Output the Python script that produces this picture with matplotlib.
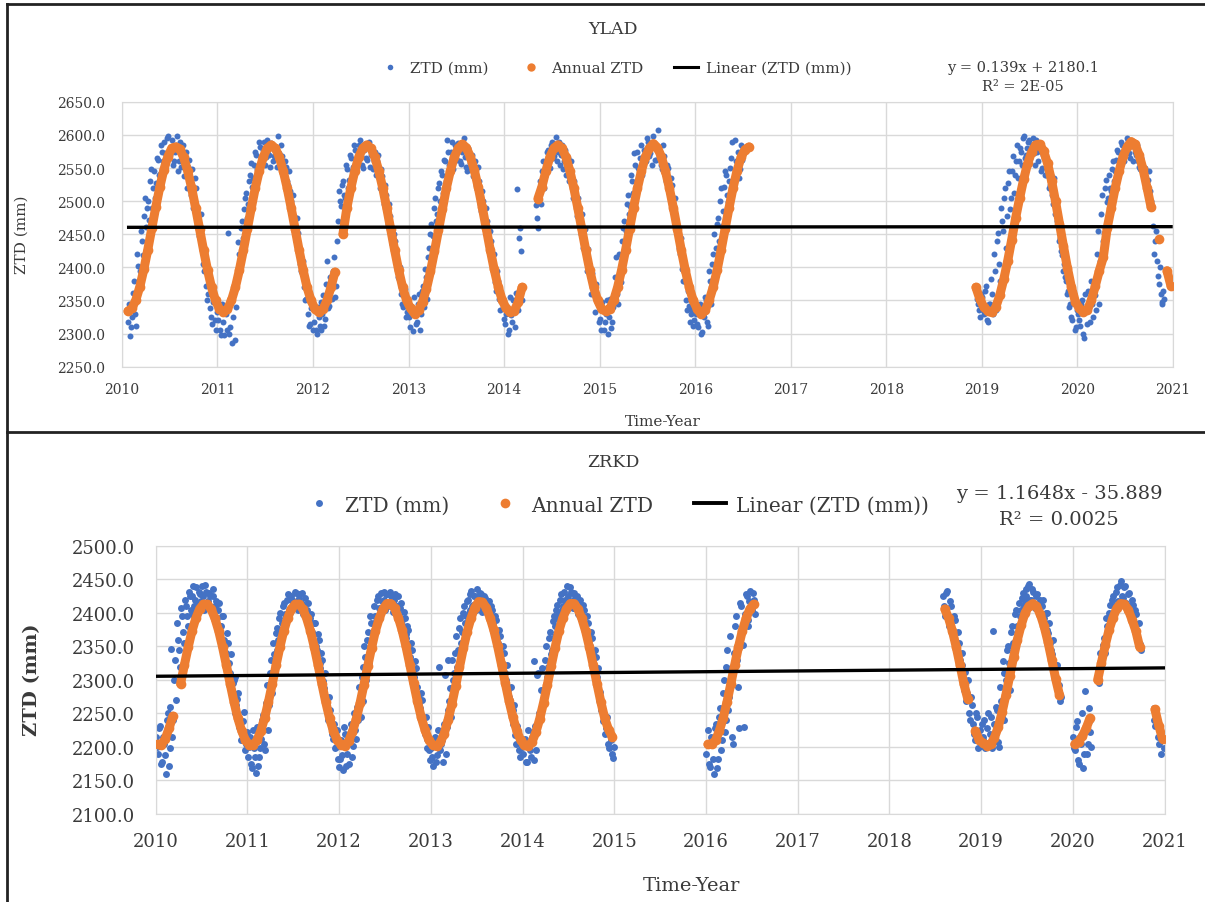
import numpy as np
import matplotlib
matplotlib.use("Agg")
import matplotlib.pyplot as plt
from matplotlib.lines import Line2D
from matplotlib.ticker import FormatStrFormatter

nan = np.nan

AZUL = "#4472C4"
LARANJA = "#ED7D31"
GRADE = "#d9d9d9"
TEXTO = "#3a3a3a"

plt.rcParams["font.family"] = ["DejaVu Serif"]

ANOS = list(range(2010, 2021))

# ---------------- YLAD ----------------
# Annual ZTD (24 amostras por ano)
ylad_ann_2010 = [nan, 2334, 2338, 2351, 2371, 2397, 2427, 2459, 2491, 2521, 2547, 2567, 2580, 2582, 2579, 2566, 2546, 2520, 2490, 2458, 2426, 2396, 2370, 2350]
ylad_ann_2011 = [2337, 2332, 2337, 2350, 2370, 2396, 2426, 2458, 2490, 2520, 2546, 2567, 2580, 2585, 2580, 2567, 2546, 2520, 2490, 2458, 2426, 2396, 2370, 2350]
ylad_ann_2012 = [2337, 2332, 2337, 2350, 2370, 2393, nan, 2450, 2490, 2520, 2546, 2567, 2580, 2585, 2580, 2567, 2546, 2520, 2490, 2458, 2426, 2396, 2370, 2350]
ylad_ann_2013 = [2338, 2330, 2335, 2348, 2368, 2394, 2424, 2456, 2488, 2520, 2546, 2567, 2580, 2586, 2581, 2567, 2547, 2521, 2491, 2459, 2427, 2397, 2371, 2351]
ylad_ann_2014 = [2338, 2332, 2334, 2347, 2370, nan, nan, nan, 2504, 2522, 2546, 2567, 2580, 2585, 2580, 2567, 2546, 2520, 2490, 2458, 2426, 2396, 2370, 2350]
ylad_ann_2015 = [2337, 2334, 2337, 2350, 2370, 2396, 2426, 2458, 2490, 2520, 2546, 2567, 2580, 2587, 2581, 2567, 2546, 2520, 2490, 2458, 2426, 2396, 2370, 2350]
ylad_ann_2016 = [2337, 2329, 2335, 2350, 2370, 2396, 2426, 2458, 2490, 2520, 2546, 2566, 2578, 2582, nan, nan, nan, nan, nan, nan, nan, nan, nan, nan]
ylad_ann_2017 = [nan] * 24
ylad_ann_2018 = [nan] * 22 + [2370, 2352]
ylad_ann_2019 = [2340, 2334, 2332, 2340, 2358, 2382, 2410, 2442, 2475, 2505, 2533, 2557, 2574, 2585, 2586, 2576, 2557, 2531, 2500, 2466, 2432, 2399, 2370, 2348]
ylad_ann_2020 = [2338, 2332, 2336, 2350, 2372, 2395, 2415, 2460, 2490, 2520, 2546, 2568, 2582, 2590, 2586, 2570, 2548, 2520, 2491, nan, 2443, nan, 2395, 2372]

# ZTD (mm) diario: duas linhas intercaladas por ano (48 amostras cada)
ylad_ztd_2010 = [nan, nan, nan, 2318, 2296, 2325, 2380, 2312, 2402, 2395, 2440, 2478, 2461, 2500, 2530, 2489, 2545, 2528, 2562, 2541, 2575, 2590, 2556, 2598, 2570, 2592, 2561, 2585, 2545, 2590, 2570, 2538, 2575, 2552, 2530, 2548, 2500, 2520, 2470, 2455, 2430, 2395, 2372, 2360, 2338, 2315, 2355, 2305]
ylad_ztd_2011 = [2320, 2305, 2345, 2298, 2330, 2452, 2310, 2286, 2365, 2340, 2438, 2395, 2470, 2488, 2512, 2495, 2540, 2522, 2555, 2570, 2548, 2582, 2560, 2590, 2566, 2578, 2552, 2586, 2568, 2575, 2598, 2560, 2568, 2545, 2552, 2525, 2515, 2490, 2478, 2440, 2452, 2405, 2392, 2370, 2352, 2330, 2315, 2340]
ylad_ztd_2012 = [2318, 2305, 2340, 2312, 2305, 2358, 2322, 2410, 2342, 2368, 2395, 2355, 2440, 2515, 2492, 2530, 2505, 2548, 2532, 2565, 2552, 2578, 2560, 2585, 2568, 2550, 2580, 2562, 2590, 2570, 2548, 2575, 2560, 2535, 2548, 2510, 2525, 2480, 2495, 2455, 2430, 2440, 2400, 2382, 2360, 2340, 2368, 2332]
ylad_ztd_2013 = [2325, 2342, 2304, 2335, 2318, 2360, 2330, 2372, 2398, 2352, 2430, 2465, 2448, 2505, 2480, 2528, 2545, 2512, 2560, 2592, 2555, 2575, 2548, 2585, 2562, 2578, 2556, 2582, 2566, 2545, 2572, 2550, 2538, 2560, 2518, 2530, 2485, 2500, 2462, 2470, 2425, 2440, 2398, 2378, 2395, 2352, 2360, 2338]
ylad_ztd_2014 = [2315, 2340, 2305, 2328, 2350, 2310, 2519, 2445, 2425, nan, nan, nan, nan, nan, nan, nan, 2494, 2460, 2530, 2545, 2520, 2560, 2578, 2550, 2590, 2568, 2597, 2575, 2555, 2585, 2560, 2540, 2565, 2548, 2525, 2530, 2495, 2505, 2465, 2480, 2440, 2415, 2428, 2385, 2392, 2360, 2375, 2345]
ylad_ztd_2015 = [2322, 2348, 2305, 2330, 2300, 2352, 2318, 2360, 2415, 2345, 2395, 2440, 2470, 2455, 2510, 2492, 2530, 2572, 2515, 2550, 2565, 2540, 2578, 2560, 2590, 2572, 2555, 2585, 2562, 2608, 2575, 2548, 2568, 2530, 2550, 2510, 2525, 2485, 2470, 2450, 2420, 2398, 2380, 2350, 2365, 2317, 2335, 2320]
ylad_ztd_2016 = [2330, 2310, 2345, 2302, 2325, 2350, 2312, 2380, 2405, 2450, 2430, 2475, 2500, 2462, 2522, 2540, 2498, 2550, 2590, 2535, 2560, 2575, 2548, 2570, 2580] + [nan] * 23
ylad_ztd_2017 = [nan] * 48
ylad_ztd_2018 = [nan] * 45 + [2370, 2345, 2325]
ylad_ztd_2019 = [2355, 2330, 2372, 2318, 2345, 2360, 2420, 2335, 2452, 2380, 2470, 2505, 2430, 2528, 2488, 2545, 2512, 2560, 2535, 2580, 2555, 2598, 2570, 2590, 2565, 2585, 2572, 2592, 2560, 2578, 2550, 2565, 2540, 2555, 2525, 2510, 2535, 2490, 2470, 2445, 2418, 2405, 2380, 2365, 2345, 2320, 2360, 2310]
ylad_ztd_2020 = [2330, 2312, 2350, 2294, 2338, 2365, 2318, 2345, 2372, 2335, 2455, 2410, 2510, 2452, 2532, 2505, 2520, 2548, 2530, 2562, 2575, 2545, 2585, 2560, 2578, 2592, 2565, 2583, 2590, 2570, 2560, 2548, 2555, 2540, 2545, 2532, 2515, 2490, 2420, 2455, 2387, 2400, 2347, 2365, nan, nan, nan, nan]

ylad_ztd_b_2010 = [nan, nan, nan, 2345, 2310, 2362, 2330, 2420, 2375, 2455, 2418, 2505, 2490, 2472, 2548, 2520, 2505, 2565, 2540, 2585, 2560, 2572, 2595, 2565, 2582, 2555, 2575, 2598, 2560, 2552, 2585, 2560, 2520, 2562, 2510, 2490, 2535, 2462, 2448, 2480, 2405, 2420, 2350, 2385, 2325, 2348, 2320, 2332]
ylad_ztd_b_2011 = [2335, 2298, 2318, 2340, 2305, 2300, 2355, 2325, 2290, 2380, 2420, 2460, 2445, 2505, 2475, 2530, 2558, 2535, 2575, 2548, 2590, 2565, 2578, 2555, 2592, 2570, 2588, 2560, 2580, 2552, 2572, 2585, 2540, 2560, 2530, 2545, 2500, 2510, 2462, 2475, 2420, 2395, 2410, 2350, 2372, 2312, 2338, 2305]
ylad_ztd_b_2012 = [2340, 2300, 2325, 2348, 2330, 2312, 2375, 2338, 2385, 2352, 2415, 2372, 2470, 2500, 2525, 2510, 2555, 2520, 2570, 2545, 2585, 2562, 2575, 2592, 2555, 2578, 2565, 2585, 2552, 2575, 2560, 2540, 2570, 2520, 2538, 2495, 2510, 2465, 2478, 2435, 2450, 2415, 2385, 2400, 2345, 2365, 2325, 2350]
ylad_ztd_b_2013 = [2310, 2330, 2355, 2315, 2345, 2305, 2365, 2340, 2385, 2415, 2450, 2420, 2490, 2470, 2520, 2500, 2540, 2562, 2530, 2575, 2548, 2590, 2565, 2572, 2588, 2560, 2575, 2595, 2552, 2580, 2558, 2570, 2545, 2525, 2552, 2495, 2515, 2470, 2490, 2440, 2455, 2410, 2420, 2365, 2380, 2335, 2348, 2322]
ylad_ztd_b_2014 = [2330, 2300, 2355, 2318, 2340, 2362, 2335, 2460, 2350, nan, nan, nan, nan, nan, nan, nan, 2475, 2510, 2495, 2560, 2538, 2575, 2552, 2585, 2565, 2580, 2560, 2590, 2570, 2548, 2578, 2555, 2530, 2560, 2505, 2520, 2478, 2490, 2450, 2430, 2458, 2395, 2405, 2360, 2372, 2332, 2350, 2318]
ylad_ztd_b_2015 = [2305, 2335, 2318, 2350, 2325, 2308, 2340, 2385, 2360, 2420, 2378, 2460, 2430, 2495, 2480, 2540, 2512, 2555, 2575, 2530, 2585, 2562, 2570, 2595, 2568, 2585, 2598, 2562, 2580, 2570, 2555, 2585, 2540, 2555, 2520, 2535, 2490, 2505, 2455, 2430, 2445, 2380, 2395, 2335, 2342, 2330, 2312, 2345]
ylad_ztd_b_2016 = [2315, 2340, 2300, 2328, 2355, 2318, 2395, 2345, 2420, 2390, 2465, 2440, 2520, 2485, 2545, 2510, 2530, 2565, 2520, 2592, 2548, 2535, 2585, 2562, 2575] + [nan] * 23
ylad_ztd_b_2017 = [nan] * 48
ylad_ztd_b_2018 = [nan] * 45 + [2352, 2335, 2360]
ylad_ztd_b_2019 = [2335, 2365, 2320, 2345, 2382, 2330, 2395, 2440, 2405, 2490, 2455, 2520, 2478, 2545, 2505, 2568, 2540, 2585, 2560, 2575, 2595, 2565, 2580, 2592, 2570, 2595, 2555, 2575, 2585, 2545, 2570, 2540, 2560, 2520, 2540, 2495, 2480, 2470, 2440, 2425, 2395, 2385, 2360, 2340, 2325, 2365, 2305, 2335]
ylad_ztd_b_2020 = [2320, 2345, 2300, 2360, 2315, 2340, 2380, 2325, 2358, 2420, 2345, 2480, 2440, 2520, 2498, 2540, 2515, 2560, 2545, 2578, 2555, 2590, 2568, 2580, 2595, 2572, 2585, 2560, 2575, 2585, 2552, 2565, 2545, 2550, 2525, 2545, 2500, 2462, 2440, 2410, 2375, 2360, 2345, 2352, nan, nan, nan, nan]

ylad_trend_t = [2010.07, 2020.98]
ylad_trend_v = [2460.5, 2461.5]
ylad_yticks = [2250, 2300, 2350, 2400, 2450, 2500, 2550, 2600, 2650]

# ---------------- ZRKD ----------------
zrkd_ann_2010 = [2204, 2203, 2212, 2228, 2246, nan, 2294, 2322, 2349, 2373, 2392, 2406, 2413, 2413, 2406, 2392, 2373, 2349, 2322, 2294, 2267, 2243, 2224, 2210]
zrkd_ann_2011 = [2203, 2203, 2210, 2224, 2243, 2267, 2294, 2322, 2349, 2373, 2392, 2406, 2413, 2413, 2406, 2392, 2373, 2349, 2322, 2294, 2267, 2243, 2224, 2210]
zrkd_ann_2012 = [2203, 2202, 2209, 2223, 2242, 2266, 2293, 2321, 2348, 2373, 2392, 2406, 2414, 2414, 2407, 2393, 2374, 2350, 2323, 2295, 2268, 2244, 2225, 2210]
zrkd_ann_2013 = [2203, 2201, 2207, 2220, 2240, 2264, 2291, 2319, 2347, 2372, 2392, 2408, 2417, 2416, 2408, 2393, 2374, 2350, 2323, 2295, 2268, 2244, 2224, 2210]
zrkd_ann_2014 = [2203, 2201, 2208, 2222, 2242, 2266, 2293, 2321, 2348, 2373, 2392, 2406, 2414, 2414, 2406, 2392, 2373, 2349, 2322, 2294, 2267, 2243, 2226, 2215]
zrkd_ann_2015 = [nan] * 24
zrkd_ann_2016 = [2204, 2204, 2210, 2224, 2243, 2267, 2294, 2322, 2349, 2373, 2392, 2406, 2413] + [nan] * 11
zrkd_ann_2017 = [nan] * 24
zrkd_ann_2018 = [nan] * 14 + [2406, 2392, 2373, 2349, 2322, 2294, 2272, nan, 2224, 2210]
zrkd_ann_2019 = [2206, 2202, 2204, 2214, 2230, 2252, 2278, 2306, 2334, 2360, 2382, 2400, 2410, 2414, 2410, 2398, 2380, 2357, 2330, 2302, 2278, nan, nan, nan]
zrkd_ann_2020 = [2204, 2208, 2216, 2228, 2243, nan, 2300, 2326, 2352, 2375, 2393, 2407, 2414, 2413, 2405, 2390, 2373, 2349, nan, nan, nan, 2256, 2232, 2212]

zrkd_ztd_2010 = [2215, 2190, 2232, 2178, 2205, 2160, 2250, 2198, 2346, 2240, 2330, 2385, 2345, 2408, 2372, 2420, 2395, 2432, 2405, 2425, 2410, 2438, 2415, 2428, 2440, 2405, 2432, 2418, 2426, 2400, 2435, 2410, 2392, 2415, 2380, 2395, 2352, 2370, 2325, 2338, 2295, 2305, 2262, 2280, 2240, 2225, 2252, 2205]
zrkd_ztd_2011 = [2185, 2215, 2168, 2198, 2161, 2230, 2185, 2212, 2248, 2195, 2293, 2262, 2330, 2355, 2312, 2378, 2360, 2400, 2385, 2415, 2395, 2428, 2402, 2420, 2410, 2430, 2405, 2428, 2415, 2398, 2422, 2405, 2380, 2398, 2368, 2385, 2345, 2360, 2318, 2330, 2288, 2270, 2240, 2255, 2220, 2235, 2200, 2182]
zrkd_ztd_2012 = [2182, 2205, 2165, 2220, 2190, 2175, 2235, 2202, 2225, 2260, 2290, 2245, 2320, 2350, 2300, 2372, 2395, 2350, 2410, 2388, 2425, 2400, 2418, 2432, 2405, 2428, 2412, 2425, 2402, 2428, 2410, 2395, 2415, 2380, 2392, 2362, 2375, 2335, 2345, 2305, 2318, 2275, 2258, 2270, 2232, 2245, 2212, 2195]
zrkd_ztd_2013 = [2198, 2172, 2215, 2188, 2320, 2205, 2178, 2308, 2230, 2255, 2288, 2330, 2310, 2365, 2345, 2392, 2372, 2410, 2395, 2420, 2405, 2433, 2412, 2425, 2435, 2408, 2428, 2415, 2422, 2400, 2418, 2392, 2405, 2375, 2390, 2355, 2365, 2325, 2340, 2300, 2285, 2270, 2245, 2255, 2218, 2232, 2195, 2210]
zrkd_ztd_2014 = [2190, 2212, 2178, 2200, 2185, 2222, 2328, 2195, 2310, 2240, 2318, 2282, 2350, 2320, 2372, 2345, 2395, 2380, 2412, 2398, 2428, 2410, 2420, 2440, 2415, 2432, 2408, 2425, 2412, 2398, 2420, 2395, 2405, 2372, 2385, 2350, 2362, 2320, 2335, 2290, 2270, 2255, 2238, 2220, 2245, 2199, 2210, 2184]
zrkd_ztd_2015 = [nan] * 48
zrkd_ztd_2016 = [2190, 2225, 2170, 2205, 2160, 2235, 2182, 2258, 2210, 2300, 2240, 2345, 2275, 2318, 2205, 2380, 2330, 2228, 2410, 2352, 2398, 2425, 2380, 2433, 2405, 2420] + [nan] * 22
zrkd_ztd_2017 = [nan] * 48
zrkd_ztd_2018 = [nan] * 28 + [2425, 2395, 2433, 2380, 2410, 2362, 2390, 2340, 2355, 2310, 2322, 2285, 2268, 2300, 2240, 2262, 2220, 2250, 2198, 2225]
zrkd_ztd_2019 = [2235, 2210, 2198, 2228, 2205, 2245, 2373, 2215, 2255, 2200, 2268, 2328, 2240, 2300, 2350, 2285, 2380, 2340, 2405, 2372, 2395, 2423, 2410, 2435, 2415, 2443, 2420, 2432, 2408, 2428, 2412, 2398, 2420, 2385, 2400, 2370, 2355, 2338, 2320, 2300, 2285, 2268, nan, nan, nan, nan, nan, nan]
zrkd_ztd_2020 = [2215, 2195, 2238, 2175, 2205, 2168, 2283, 2190, 2258, 2222, nan, nan, nan, 2308, 2340, 2325, 2362, 2393, 2375, 2412, 2398, 2425, 2408, 2438, 2415, 2448, 2422, 2440, 2405, 2430, 2395, 2412, 2380, 2398, 2360, 2353, nan, nan, nan, nan, nan, nan, 2258, 2232, 2240, 2205, 2189, 2220]

zrkd_ztd_b_2010 = [2200, 2228, 2175, 2215, 2188, 2240, 2172, 2260, 2215, 2300, 2270, 2360, 2320, 2395, 2355, 2410, 2380, 2425, 2398, 2440, 2420, 2408, 2432, 2418, 2425, 2442, 2410, 2430, 2405, 2425, 2398, 2418, 2405, 2380, 2395, 2360, 2340, 2355, 2310, 2285, 2300, 2250, 2272, 2230, 2210, 2238, 2195, 2222]
zrkd_ztd_b_2011 = [2200, 2175, 2225, 2185, 2210, 2172, 2198, 2240, 2205, 2265, 2225, 2310, 2280, 2338, 2370, 2345, 2392, 2375, 2410, 2398, 2420, 2405, 2425, 2415, 2432, 2418, 2422, 2408, 2430, 2412, 2398, 2415, 2392, 2372, 2385, 2350, 2368, 2325, 2340, 2298, 2310, 2255, 2275, 2230, 2212, 2198, 2225, 2170]
zrkd_ztd_b_2012 = [2210, 2188, 2230, 2172, 2205, 2218, 2185, 2250, 2212, 2240, 2275, 2305, 2268, 2335, 2360, 2325, 2385, 2368, 2395, 2420, 2408, 2430, 2405, 2420, 2428, 2410, 2432, 2418, 2420, 2405, 2425, 2408, 2390, 2402, 2368, 2380, 2348, 2355, 2315, 2328, 2290, 2262, 2280, 2242, 2220, 2198, 2230, 2180]
zrkd_ztd_b_2013 = [2185, 2205, 2178, 2225, 2195, 2210, 2235, 2190, 2330, 2268, 2245, 2300, 2340, 2320, 2378, 2355, 2400, 2385, 2418, 2400, 2428, 2410, 2425, 2405, 2420, 2430, 2402, 2425, 2410, 2418, 2400, 2410, 2385, 2395, 2362, 2375, 2340, 2350, 2310, 2322, 2275, 2290, 2235, 2262, 2205, 2220, 2185, 2200]
zrkd_ztd_b_2014 = [2205, 2178, 2225, 2195, 2215, 2180, 2232, 2308, 2250, 2285, 2265, 2330, 2305, 2362, 2338, 2388, 2365, 2405, 2392, 2420, 2405, 2432, 2412, 2425, 2438, 2418, 2430, 2410, 2425, 2415, 2400, 2412, 2385, 2395, 2360, 2372, 2338, 2345, 2305, 2318, 2282, 2265, 2248, 2228, 2205, 2218, 2190, 2200]
zrkd_ztd_b_2015 = [nan] * 48
zrkd_ztd_b_2016 = [2205, 2175, 2215, 2182, 2228, 2168, 2245, 2195, 2280, 2222, 2320, 2255, 2365, 2215, 2340, 2395, 2290, 2415, 2372, 2230, 2428, 2390, 2418, 2410, 2430, 2398] + [nan] * 22
zrkd_ztd_b_2017 = [nan] * 48
zrkd_ztd_b_2018 = [nan] * 28 + [2410, 2430, 2392, 2418, 2375, 2395, 2350, 2372, 2330, 2340, 2300, 2312, 2280, 2250, 2275, 2235, 2210, 2245, 2215, 2202]
zrkd_ztd_b_2019 = [2215, 2240, 2205, 2250, 2220, 2198, 2235, 2260, 2208, 2290, 2245, 2310, 2275, 2345, 2325, 2372, 2355, 2398, 2380, 2415, 2405, 2430, 2418, 2425, 2440, 2420, 2435, 2415, 2425, 2405, 2420, 2410, 2392, 2400, 2375, 2385, 2345, 2360, 2308, 2322, 2292, 2275, nan, nan, nan, nan, nan, nan]
zrkd_ztd_b_2020 = [2198, 2230, 2180, 2215, 2250, 2190, 2228, 2205, 2240, 2200, nan, nan, nan, 2295, 2325, 2352, 2340, 2380, 2400, 2388, 2420, 2410, 2432, 2418, 2442, 2425, 2438, 2415, 2428, 2410, 2420, 2395, 2405, 2372, 2385, 2345, nan, nan, nan, nan, nan, nan, 2240, 2255, 2215, 2230, 2210, 2198]

zrkd_trend_t = [2010.0, 2021.0]
zrkd_trend_v = [2305.5, 2318.0]
zrkd_yticks = [2100, 2150, 2200, 2250, 2300, 2350, 2400, 2450, 2500]

ANOS_TICKS = list(range(2010, 2022))


def serie_anual(linhas, desloc=0.5):
    # cada linha cobre um ano com amostras igualmente espacadas
    t, v = [], []
    for ano, linha in zip(ANOS, linhas):
        n = len(linha)
        t.extend(ano + (np.arange(n) + desloc) / n)
        v.extend(linha)
    return np.array(t), np.array(v, dtype=float)


def desenhar(ax, ztd_a, ztd_b, anual, trend_t, trend_v, yticks, fs_tick, ms_azul, pad_y, pad_x):
    for linhas, desloc in [(ztd_a, 0.25), (ztd_b, 0.75)]:
        t_z, v_z = serie_anual(linhas, desloc)
        ax.plot(t_z, v_z, "o", color=AZUL, ms=ms_azul, mew=0, zorder=2)
    t_a, v_a = serie_anual(anual)
    ax.plot(t_a, v_a, "-o", color=LARANJA, lw=6.5, ms=7, mew=0,
            solid_capstyle="round", zorder=3)
    ax.plot(trend_t, trend_v, color="black", lw=2.4, zorder=4)

    ax.set_xlim(2010, 2021)
    ax.set_ylim(yticks[0], yticks[-1])
    ax.set_xticks(ANOS_TICKS)
    ax.set_yticks(yticks)
    ax.yaxis.set_major_formatter(FormatStrFormatter("%.1f"))
    ax.grid(True, color=GRADE, lw=1.0, zorder=0)
    ax.set_axisbelow(True)
    for s in ax.spines.values():
        s.set_color(GRADE)
    ax.tick_params(axis="both", length=0, labelsize=fs_tick, colors=TEXTO)
    ax.tick_params(axis="y", pad=pad_y)
    ax.tick_params(axis="x", pad=pad_x)


def legenda(fig, x, y, fs, ms_azul, ms_lar, lw_lin, espaco):
    handles = [
        Line2D([], [], ls="", marker="o", color=AZUL, ms=ms_azul, mew=0),
        Line2D([], [], ls="", marker="o", color=LARANJA, ms=ms_lar, mew=0),
        Line2D([], [], color="black", lw=lw_lin),
    ]
    nomes = ["ZTD (mm)", "Annual ZTD", "Linear (ZTD (mm))"]
    fig.legend(handles, nomes, loc="center", bbox_to_anchor=(x, y), ncol=3,
               frameon=False, fontsize=fs, handlelength=1.6, handletextpad=0.5,
               columnspacing=espaco, labelcolor=TEXTO)


fig = plt.figure(figsize=(12.05, 9.03), dpi=100)

ax1 = fig.add_axes([0.1012, 0.5928, 0.8722, 0.2933])
desenhar(ax1,
         [ylad_ztd_2010, ylad_ztd_2011, ylad_ztd_2012, ylad_ztd_2013, ylad_ztd_2014, ylad_ztd_2015,
          ylad_ztd_2016, ylad_ztd_2017, ylad_ztd_2018, ylad_ztd_2019, ylad_ztd_2020],
         [ylad_ztd_b_2010, ylad_ztd_b_2011, ylad_ztd_b_2012, ylad_ztd_b_2013, ylad_ztd_b_2014, ylad_ztd_b_2015,
          ylad_ztd_b_2016, ylad_ztd_b_2017, ylad_ztd_b_2018, ylad_ztd_b_2019, ylad_ztd_b_2020],
         [ylad_ann_2010, ylad_ann_2011, ylad_ann_2012, ylad_ann_2013, ylad_ann_2014, ylad_ann_2015,
          ylad_ann_2016, ylad_ann_2017, ylad_ann_2018, ylad_ann_2019, ylad_ann_2020],
         ylad_trend_t, ylad_trend_v, ylad_yticks, 10, 4.3, 12, 11)

ax2 = fig.add_axes([0.1292, 0.0975, 0.8372, 0.2968])
desenhar(ax2,
         [zrkd_ztd_2010, zrkd_ztd_2011, zrkd_ztd_2012, zrkd_ztd_2013, zrkd_ztd_2014, zrkd_ztd_2015,
          zrkd_ztd_2016, zrkd_ztd_2017, zrkd_ztd_2018, zrkd_ztd_2019, zrkd_ztd_2020],
         [zrkd_ztd_b_2010, zrkd_ztd_b_2011, zrkd_ztd_b_2012, zrkd_ztd_b_2013, zrkd_ztd_b_2014, zrkd_ztd_b_2015,
          zrkd_ztd_b_2016, zrkd_ztd_b_2017, zrkd_ztd_b_2018, zrkd_ztd_b_2019, zrkd_ztd_b_2020],
         [zrkd_ann_2010, zrkd_ann_2011, zrkd_ann_2012, zrkd_ann_2013, zrkd_ann_2014, zrkd_ann_2015,
          zrkd_ann_2016, zrkd_ann_2017, zrkd_ann_2018, zrkd_ann_2019, zrkd_ann_2020],
         zrkd_trend_t, zrkd_trend_v, zrkd_yticks, 13, 5.0, 15, 13)

# titulos, legendas, equacoes
fig.text(0.5087, 0.9668, "YLAD", ha="center", va="center", fontsize=12.5, color=TEXTO)
fig.text(0.5087, 0.4873, "ZRKD", ha="center", va="center", fontsize=12.5, color=TEXTO)

legenda(fig, 0.510, 0.9236, 11, 4, 6, 2.2, 2.0)
legenda(fig, 0.511, 0.4396, 14.5, 5, 7, 2.8, 2.0)

fig.text(0.849, 0.9247, "y = 0.139x + 2180.1", ha="center", va="center", fontsize=10.5, color=TEXTO)
fig.text(0.849, 0.9037, "R² = 2E-05", ha="center", va="center", fontsize=10.5, color=TEXTO)
fig.text(0.879, 0.4529, "y = 1.1648x - 35.889", ha="center", va="center", fontsize=14, color=TEXTO)
fig.text(0.879, 0.4241, "R² = 0.0025", ha="center", va="center", fontsize=14, color=TEXTO)

fig.text(0.550, 0.5327, "Time-Year", ha="center", va="center", fontsize=11, color=TEXTO)
fig.text(0.5734, 0.0188, "Time-Year", ha="center", va="center", fontsize=14, color=TEXTO)
fig.text(0.0183, 0.7398, "ZTD (mm)", ha="center", va="center", rotation=90, fontsize=11, color=TEXTO)
fig.text(0.0266, 0.247, "ZTD (mm)", ha="center", va="center", rotation=90, fontsize=14,
         fontweight="bold", color=TEXTO)

# molduras
for xs, ys in [([0.0058, 1.0], [0.9945, 0.9945]),
               ([0.0058, 0.0058], [0.0, 0.9945]),
               ([0.0058, 1.0], [0.5205, 0.5205])]:
    fig.add_artist(Line2D(xs, ys, transform=fig.transFigure, color="#222222", lw=2.0))

fig.savefig("out.png", dpi=100)
